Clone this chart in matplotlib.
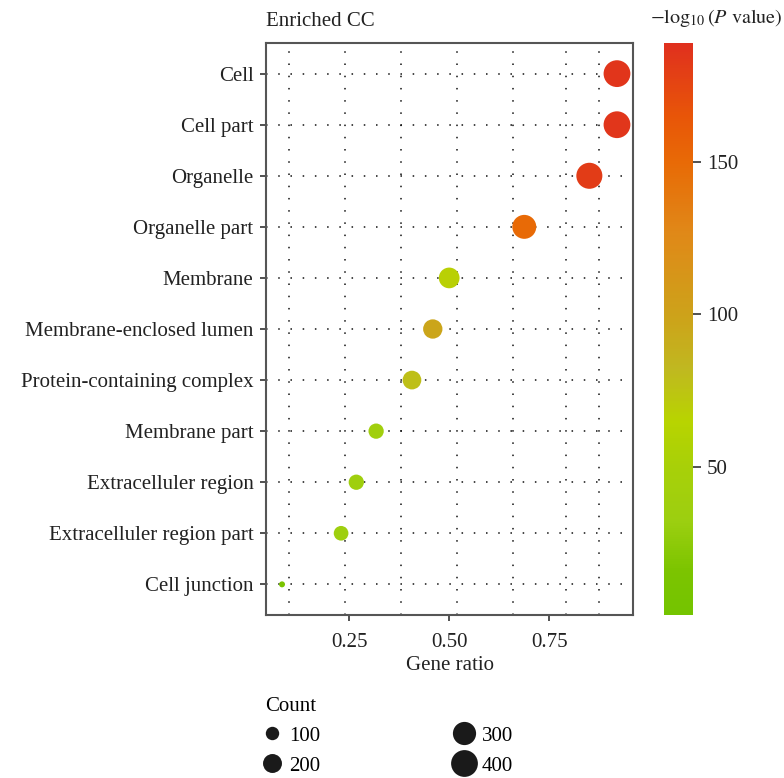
import numpy as np
import matplotlib
matplotlib.use("Agg")
import matplotlib.pyplot as plt
from matplotlib.colors import LinearSegmentedColormap, Normalize
from matplotlib.lines import Line2D
from matplotlib.cm import ScalarMappable

plt.rcParams["font.family"] = ["Liberation Serif", "DejaVu Serif"]
plt.rcParams["mathtext.fontset"] = "stix"

terms = ["Cell", "Cell part", "Organelle", "Organelle part", "Membrane",
         "Membrane-enclosed lumen", "Protein-containing complex", "Membrane part",
         "Extracelluler region", "Extracelluler region part", "Cell junction"]
gene_ratio = [0.919, 0.919, 0.85, 0.6875, 0.50, 0.459, 0.407, 0.3175, 0.268, 0.23, 0.0825]
counts = [400, 400, 378, 320, 239, 208, 195, 130, 130, 120, 20]
neglogp = [186, 185, 181, 150, 68, 97, 78, 40, 37, 35, 12]

legend_counts = [100, 200, 300, 400]
xticks = [0.25, 0.50, 0.75]
cbar_ticks = [50, 100, 150]

vmin, vmax = 1.4, 189
stops = [(1.4, "#74c400"), (16, "#7cc400"), (32, "#9ccf10"), (50, "#a8d008"),
         (65, "#b8d400"), (82, "#c0b820"), (98, "#cca41a"), (127, "#e08818"),
         (150, "#e86a06"), (165, "#e85608"), (189, "#e0301e")]
cmap = LinearSegmentedColormap.from_list(
    "pv", [((v - vmin) / (vmax - vmin), c) for v, c in stops])
norm = Normalize(vmin, vmax)

k = 0.93  # points^2 per count
fs = 15

fig = plt.figure(figsize=(7.84, 7.78), dpi=100)
ax = fig.add_axes([266/784, 1 - 615/778, (633-266)/784, (615-43)/778])

ypos = np.arange(len(terms))[::-1]

# dotted background grid
for y in ypos:
    ax.axhline(y, color="#111111", lw=1.1, ls=(0, (1, 7.0)), zorder=0)
for gx in [0.1, 0.24, 0.38, 0.52, 0.66, 0.7925, 0.875]:
    ax.axvline(gx, color="#111111", lw=1.1, ls=(0, (1, 7.0)), zorder=0)

ax.scatter(gene_ratio, ypos, s=np.array(counts) * k, c=neglogp, cmap=cmap, norm=norm,
           edgecolors="none", zorder=3)

ax.set_xlim(0.0425, 0.959)
ax.set_ylim(-0.6, len(terms) - 0.4)
ax.set_yticks(ypos)
ax.set_yticklabels(terms, fontsize=fs, color="#222222")
ax.set_xticks(xticks)
ax.set_xticklabels(["%.2f" % t for t in xticks], fontsize=fs, color="#222222")
ax.set_xlabel("Gene ratio", fontsize=fs, color="#222222", labelpad=3)
ax.tick_params(length=4, width=1.2, color="#333333", pad=5)
ax.tick_params(axis="x", pad=9)
for sp in ax.spines.values():
    sp.set_color("#555555")
    sp.set_linewidth(1.5)

fig.text(266/784, 1 - 21/778, "Enriched CC", ha="left", va="center", fontsize=fs, color="#222222")

# colorbar
cax = fig.add_axes([664/784, 1 - 615/778, 29/784, (615-43)/778])
cb = fig.colorbar(ScalarMappable(norm=norm, cmap=cmap), cax=cax, ticks=cbar_ticks)
cb.outline.set_visible(False)
cax.tick_params(length=6, width=1.2, color="#333333", labelsize=fs, labelcolor="#222222", pad=4)
fig.text(716/784, 1 - 18/778, r"$-\log_{10}(P\ \mathrm{value})$", ha="center", va="center",
         fontsize=14.5, color="#222222")

# size legend
handles = [Line2D([], [], ls="none", marker="o", markersize=np.sqrt(k * c),
                  markerfacecolor="#1a1a1a", markeredgecolor="none") for c in legend_counts]
leg = fig.legend(handles, [str(c) for c in legend_counts], title="Count", ncol=2,
                 loc="upper left", bbox_to_anchor=(251/784, 1 - 682/778), frameon=False,
                 fontsize=fs, title_fontsize=fs, alignment="left", columnspacing=6.6,
                 handletextpad=0.55, labelspacing=0.5, handlelength=0.6, borderpad=0.2)

fig.savefig("out.png", dpi=100)
